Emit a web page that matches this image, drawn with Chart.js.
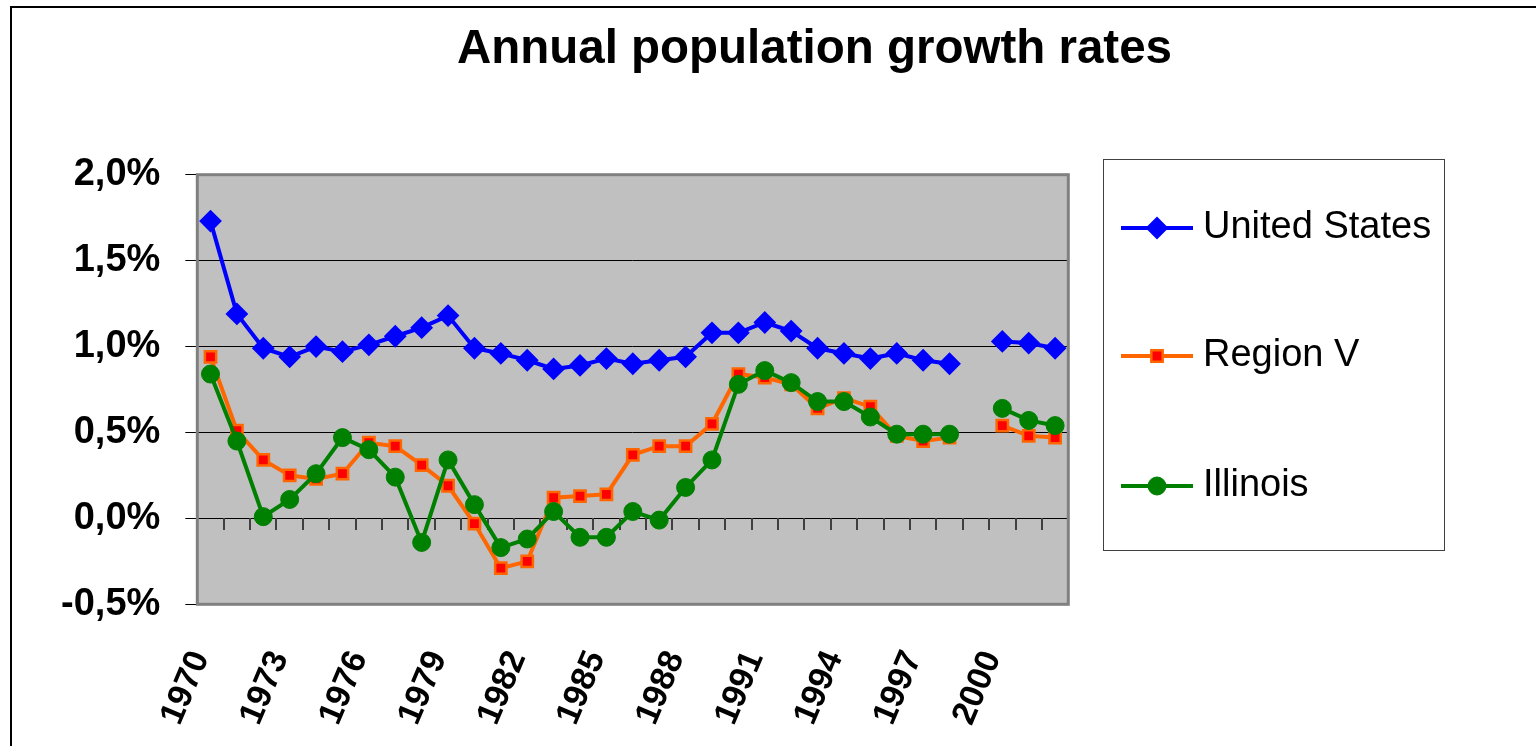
<!DOCTYPE html>
<html>
<head>
<meta charset="utf-8">
<title>Annual population growth rates</title>
<script src="https://cdn.jsdelivr.net/npm/chart.js@4.4.1/dist/chart.umd.min.js"></script>
<style>
  html, body { margin: 0; padding: 0; background: #fff; }
  canvas { display: block; }
</style>
</head>
<body>
<canvas id="growthChart" width="1536" height="746"></canvas>
<script>
// --- data (percent per year) ---
const years = ['1970', '1971', '1972', '1973', '1974', '1975', '1976', '1977', '1978', '1979',
               '1980', '1981', '1982', '1983', '1984', '1985', '1986', '1987', '1988', '1989',
               '1990', '1991', '1992', '1993', '1994', '1995', '1996', '1997', '1998', '1999',
               '2000', '2001', '2002'];
const tickYears = ['1970', '1973', '1976', '1979', '1982', '1985', '1988', '1991', '1994', '1997', '2000'];

const usRate = [1.73, 1.19, 0.99, 0.94, 1.00, 0.97, 1.01, 1.06, 1.11, 1.18,
                0.99, 0.96, 0.92, 0.87, 0.89, 0.93, 0.90, 0.92, 0.94, 1.08,
                1.08, 1.14, 1.09, 0.99, 0.96, 0.93, 0.96, 0.92, 0.90, null,
                1.03, 1.02, 0.99];
const regionRate = [0.94, 0.51, 0.34, 0.25, 0.23, 0.26, 0.44, 0.42, 0.31, 0.19,
                    -0.03, -0.29, -0.25, 0.12, 0.13, 0.14, 0.37, 0.42, 0.42, 0.55,
                    0.84, 0.82, 0.78, 0.64, 0.70, 0.65, 0.48, 0.45, 0.47, null,
                    0.54, 0.48, 0.47];
const illinoisRate = [0.84, 0.45, 0.01, 0.11, 0.26, 0.47, 0.40, 0.24, -0.14, 0.34,
                      0.08, -0.17, -0.12, 0.04, -0.11, -0.11, 0.04, -0.01, 0.18, 0.34,
                      0.78, 0.86, 0.79, 0.68, 0.68, 0.59, 0.49, 0.49, 0.49, null,
                      0.64, 0.57, 0.54];

const FONT = '"Liberation Sans", Arial, Helvetica, sans-serif';
Chart.defaults.font.family = FONT;
Chart.defaults.color = '#000';

// grey plot area, outer frame, little category ticks under the zero line
const plotFrame = {
  id: 'plotFrame',
  beforeDraw(chart) {
    const { ctx, chartArea: a } = chart;
    ctx.save();
    ctx.fillStyle = '#fff';
    ctx.fillRect(0, 0, chart.width, chart.height);
    ctx.strokeStyle = '#000';
    ctx.lineWidth = 2;
    ctx.strokeRect(11, 7, chart.width + 40, chart.height + 40);
    ctx.fillStyle = '#C0C0C0';
    ctx.fillRect(a.left, a.top, a.right - a.left, a.bottom - a.top);
    ctx.restore();
  },
  beforeDatasetsDraw(chart) {
    const { ctx, chartArea: a, scales } = chart;
    const x = scales.x, y = scales.y;
    const y0 = Math.round(y.getPixelForValue(0));
    ctx.save();
    ctx.strokeStyle = '#404040';
    ctx.lineWidth = 2;
    ctx.beginPath();
    for (let i = 0; i <= years.length; i++) {
      const px = Math.round(x.getPixelForValue(i - 0.5));
      ctx.moveTo(px, y0);
      ctx.lineTo(px, y0 + 12);
    }
    ctx.stroke();
    ctx.strokeStyle = '#808080';
    ctx.lineWidth = 3;
    ctx.strokeRect(a.left, a.top, a.right - a.left, a.bottom - a.top);
    ctx.restore();
  }
};

// boxed legend on the right, like the spreadsheet one
const legendRows = [228, 356, 486];
const boxLegend = {
  id: 'boxLegend',
  afterDraw(chart) {
    const ctx = chart.ctx;
    ctx.save();
    ctx.strokeStyle = '#404040';
    ctx.lineWidth = 1;
    ctx.strokeRect(1103.5, 159.5, 341, 391);
    ctx.font = '38px ' + FONT;
    ctx.textBaseline = 'middle';
    ctx.textAlign = 'left';
    chart.data.datasets.forEach((ds, i) => {
      const cy = legendRows[i];
      ctx.strokeStyle = ds.borderColor;
      ctx.lineWidth = ds.borderWidth;
      ctx.beginPath();
      ctx.moveTo(1121, cy);
      ctx.lineTo(1193, cy);
      ctx.stroke();
      ctx.fillStyle = ds.pointBackgroundColor;
      ctx.strokeStyle = ds.pointBorderColor;
      ctx.lineWidth = ds.pointBorderWidth;
      Chart.helpers.drawPoint(ctx, {
        pointStyle: ds.pointStyle, radius: ds.pointRadius,
        rotation: 0, borderWidth: ds.pointBorderWidth
      }, 1157, cy);
      ctx.fillStyle = '#000';
      ctx.fillText(ds.label, 1203, cy);
    });
    ctx.restore();
  }
};

new Chart(document.getElementById('growthChart'), {
  type: 'line',
  data: {
    labels: years,
    datasets: [
      {
        label: 'United States', data: usRate, order: 3,
        borderColor: '#0000FF', borderWidth: 4, tension: 0,
        pointStyle: 'rectRot', pointRadius: 10,
        pointBackgroundColor: '#0000FF', pointBorderColor: '#0000FF', pointBorderWidth: 2
      },
      {
        label: 'Region V', data: regionRate, order: 2,
        borderColor: '#FF6600', borderWidth: 4, tension: 0,
        pointStyle: 'rect', pointRadius: 8,
        pointBackgroundColor: '#FF0000', pointBorderColor: '#FF6600', pointBorderWidth: 2.5
      },
      {
        label: 'Illinois', data: illinoisRate, order: 1,
        borderColor: '#008000', borderWidth: 4, tension: 0,
        pointStyle: 'circle', pointRadius: 9,
        pointBackgroundColor: '#008000', pointBorderColor: '#008000', pointBorderWidth: 1
      }
    ]
  },
  options: {
    responsive: false,
    animation: false,
    devicePixelRatio: 1,
    spanGaps: false,
    layout: { padding: { left: 40, right: 364, top: 0, bottom: 0 } },
    plugins: {
      legend: { display: false },
      tooltip: { enabled: false },
      title: {
        display: true,
        text: 'Annual population growth rates',
        align: 'end',
        color: '#000',
        font: { size: 47.5, weight: 'bold' },
        padding: { top: 21, bottom: 96.7 }
      }
    },
    scales: {
      x: {
        offset: true,
        grid: { display: false, drawTicks: false },
        border: { display: false },
        ticks: {
          autoSkip: false,
          minRotation: 67,
          maxRotation: 67,
          padding: 41,
          labelOffset: -10,
          font: { size: 34, weight: 'bold' },
          color: '#000',
          callback: (value, index) => tickYears.includes(years[index]) ? years[index] : ''
        },
        afterFit(scale) { scale.height = 141.7; }
      },
      y: {
        min: -0.5,
        max: 2,
        grid: { color: '#000', lineWidth: 1, tickLength: 12, drawTicks: true },
        border: { display: false },
        ticks: {
          stepSize: 0.5,
          padding: 25,
          font: { size: 38, weight: 'bold' },
          color: '#000',
          callback: v => v.toFixed(1).replace('.', ',') + '%'
        },
        afterFit(scale) { scale.width = 157.3; }
      },
      yRight: {
        position: 'right',
        grid: { display: false, drawTicks: false },
        border: { display: false },
        ticks: { display: false },
        afterFit(scale) { scale.width = 103.7; }
      }
    }
  },
  plugins: [plotFrame, boxLegend]
});
</script>
</body>
</html>
